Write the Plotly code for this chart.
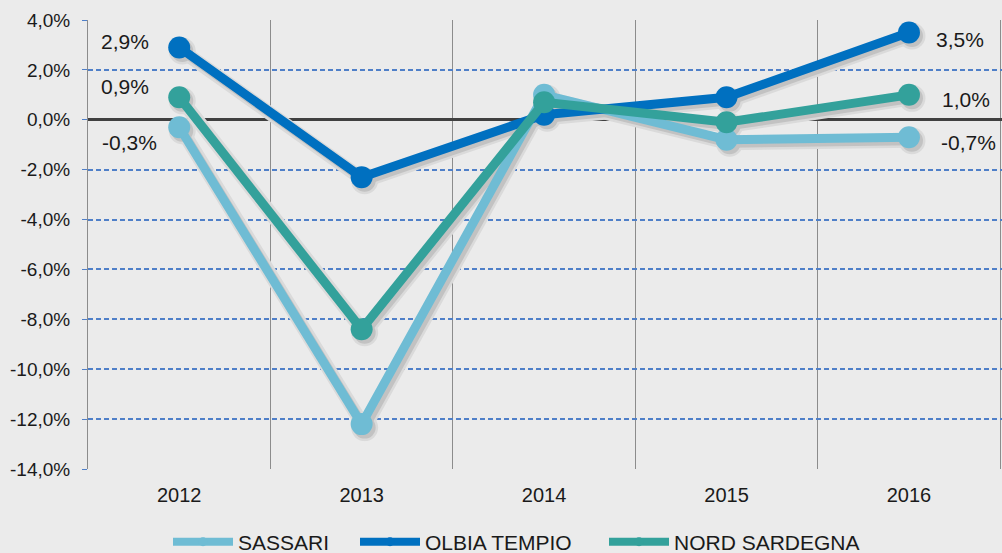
import plotly.graph_objects as go

YEARS = ["2012", "2013", "2014", "2015", "2016"]
SASSARI = [-0.3, -12.2, 1.0, -0.8, -0.7]
OLBIA_TEMPIO = [2.9, -2.3, 0.2, 0.9, 3.5]
NORD_SARDEGNA = [0.9, -8.4, 0.7, -0.1, 1.0]
Y_TICKS = [4, 2, 0, -2, -4, -6, -8, -10, -12, -14]

SERIES = [
    ("SASSARI", SASSARI, "#6fbcd4"),
    ("OLBIA TEMPIO", OLBIA_TEMPIO, "#0070c0"),
    ("NORD SARDEGNA", NORD_SARDEGNA, "#33a19b"),
]
# legend entry text-slot widths (px) to reproduce the original spacing
LEGEND_SLOT = {"SASSARI": 112, "OLBIA TEMPIO": 174, "NORD SARDEGNA": 0}

FONT = "Liberation Sans, Arial, sans-serif"
BG = "#ebebeb"
GRID = "#4f7fc8"
W, H = 1002, 553
ML, MR, MT, MB = 88, 0, 20, 84
XR = [-0.5, 4.51]
YR = [-14, 4]
x = list(range(len(YEARS)))


def fmt(v):
    return f"{v:.1f}%".replace(".", ",")


# pixel -> data unit conversion for the drop-shadow offset
px_x = (XR[1] - XR[0]) / (W - ML - MR)
px_y = (YR[1] - YR[0]) / (H - MT - MB)
SH_DX, SH_DY = 3.0, 3.5

fig = go.Figure()
# shadows (on shifted overlay axes)
for layer_col, lw, ms in (("#dadada", 14, 27), ("#c2c2c2", 9, 22)):
    for name, vals, col in SERIES:
        fig.add_trace(go.Scatter(
            x=x, y=vals, mode="lines+markers", xaxis="x2", yaxis="y2",
            line=dict(color=layer_col, width=lw), marker=dict(color=layer_col, size=ms),
            showlegend=False, hoverinfo="skip",
        ))
# main series
for name, vals, col in SERIES:
    fig.add_trace(go.Scatter(
        x=x, y=vals, mode="lines+markers", name=name, xaxis="x3", yaxis="y3",
        line=dict(color=col, width=9), marker=dict(color=col, size=22),
        showlegend=False, hoverinfo="skip",
    ))
# legend entries
for name, vals, col in SERIES:
    kw = {}
    if LEGEND_SLOT[name]:
        kw["legendwidth"] = LEGEND_SLOT[name]
    fig.add_trace(go.Scatter(
        x=[None], y=[None], mode="lines+markers", name=name, xaxis="x3", yaxis="y3",
        line=dict(color=col, width=8), marker=dict(color=col, size=9), **kw,
    ))

left_off = {"SASSARI": (-20, -15), "OLBIA TEMPIO": (-28, 6), "NORD SARDEGNA": (-28, 11)}
right_off = {"SASSARI": (30, -5), "OLBIA TEMPIO": (25, -7), "NORD SARDEGNA": (31, -5)}
for name, vals, col in SERIES:
    dx, dy = left_off[name]
    fig.add_annotation(x=x[0], y=vals[0], text=fmt(vals[0]), showarrow=False,
                       xref="x", yref="y",
                       xanchor="right", yanchor="middle", xshift=dx, yshift=dy,
                       font=dict(size=21, color="#1a1a1a", family=FONT))
    dx, dy = right_off[name]
    fig.add_annotation(x=x[-1], y=vals[-1], text=fmt(vals[-1]), showarrow=False,
                       xref="x", yref="y",
                       xanchor="left", yanchor="middle", xshift=dx, yshift=dy,
                       font=dict(size=21, color="#1a1a1a", family=FONT))

hidden = dict(visible=False, showgrid=False, zeroline=False, showline=False,
              fixedrange=True, gridcolor=GRID)

fig.update_layout(
    width=W, height=H,
    margin=dict(l=ML, r=MR, t=MT, b=MB),
    paper_bgcolor=BG, plot_bgcolor=BG,
    font=dict(family=FONT, color="#1a1a1a"),
    xaxis=dict(
        range=XR, tickvals=x, ticktext=YEARS,
        showgrid=False, zeroline=False, showline=False, ticks="",
        tickfont=dict(size=20), ticklabelstandoff=12,
        minor=dict(tick0=0.5, dtick=1, showgrid=True, gridcolor="#8c8c8c", gridwidth=1),
        fixedrange=True,
    ),
    yaxis=dict(
        range=YR, tickvals=Y_TICKS, ticktext=[fmt(v) for v in Y_TICKS],
        showgrid=True, gridcolor=GRID, gridwidth=1.5, griddash="5px,3px",
        zeroline=True, zerolinecolor="#404040", zerolinewidth=3,
        showline=True, linecolor="#8c8c8c", linewidth=1,
        ticks="outside", ticklen=5, tickcolor=GRID,
        tickfont=dict(size=19), ticklabelstandoff=8, fixedrange=True,
    ),
    xaxis2=dict(overlaying="x", range=[XR[0] - SH_DX * px_x, XR[1] - SH_DX * px_x], **hidden),
    yaxis2=dict(overlaying="y", range=[YR[0] + SH_DY * px_y, YR[1] + SH_DY * px_y], **hidden),
    xaxis3=dict(overlaying="x", range=XR, **hidden),
    yaxis3=dict(overlaying="y", range=YR, **hidden),
    legend=dict(
        orientation="h", xref="container", x=168 / W, xanchor="left",
        yref="container", y=11 / H, yanchor="middle",
        font=dict(size=21, color="#1a1a1a"), bgcolor="rgba(0,0,0,0)",
        itemwidth=60, tracegroupgap=0,
    ),
)

fig.write_html(
    "out.html",
    config={"displayModeBar": False},
    post_script="document.body.style.margin='0';document.body.style.overflow='hidden';",
)
